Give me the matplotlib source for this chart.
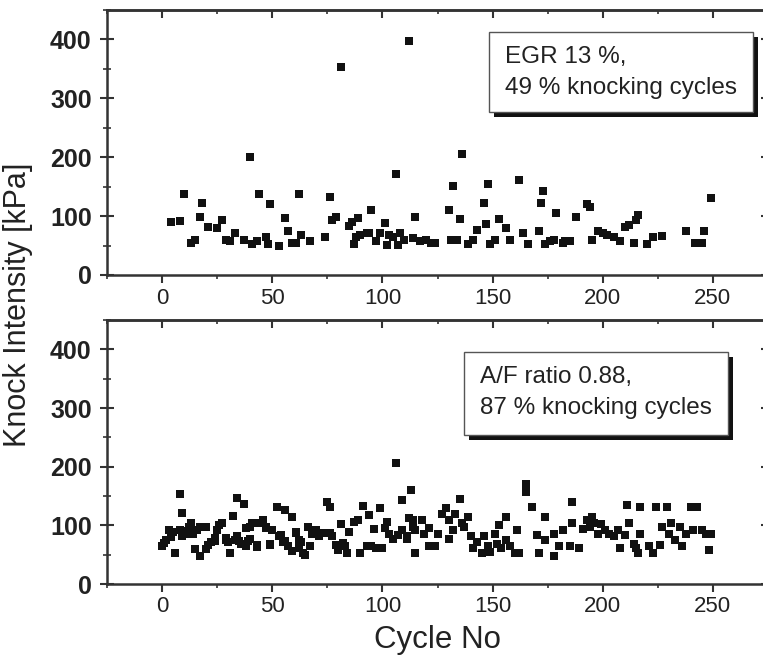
import matplotlib
matplotlib.use("Agg")
import matplotlib.pyplot as plt
from matplotlib.patches import Rectangle
from matplotlib.ticker import MultipleLocator

plt.rcParams["font.family"] = ["Liberation Sans", "DejaVu Sans"]

# EGR 13 % case (knocking cycles only)
egr_cycle = [4, 8, 10, 13, 15, 17, 18, 21, 25, 27, 29, 31, 33, 37, 40, 41, 44, 43,
             47, 48, 49, 53, 56, 57, 59, 61, 62, 63, 67, 74, 76, 77, 79, 81, 85, 87,
             86, 89, 88, 90, 93, 95, 94, 97, 99, 101, 102, 103, 106, 105, 107, 108,
             110, 112, 115, 114, 117, 120, 122, 124, 131, 132, 130, 135, 134, 136,
             139, 141, 143, 146, 147, 148, 149, 151, 153, 156, 158, 162, 164, 166,
             171, 172, 173, 174, 176, 178, 179, 182, 183, 185, 188, 193, 194, 195,
             198, 200, 202, 205, 208, 210, 212, 215, 216, 214, 220, 223, 227, 238,
             242, 246, 245, 249]
egr_ki = [90, 92, 137, 55, 59, 99, 123, 82, 80, 93, 59, 58, 72, 59, 200, 52, 137, 58,
          64, 52, 120, 50, 96, 75, 55, 55, 137, 68, 58, 64, 133, 93, 99, 353, 83, 53,
          90, 96, 65, 68, 71, 110, 72, 58, 72, 88, 51, 68, 171, 65, 51, 71,
          59, 398, 99, 62, 58, 60, 55, 55, 59, 151, 110, 95, 59, 205,
          52, 60, 76, 123, 87, 154, 52, 59, 95, 79, 60, 162, 71, 52,
          75, 122, 143, 52, 57, 59, 106, 54, 58, 58, 99, 120, 116, 59,
          74, 71, 68, 65, 57, 82, 85, 93, 102, 54, 53, 65, 66, 75,
          54, 75, 55, 130]

# A/F ratio 0.88 case
af_cycle = [0, 1, 2, 4, 3, 5, 6, 8, 9, 8, 9, 11, 13, 12, 14, 15, 16, 17, 17, 20,
            20, 21, 24, 25, 26, 27, 29, 31, 32, 33, 34, 35, 37, 38, 38, 40, 41, 43,
            44, 46, 47, 49, 50, 52, 53, 55, 56, 57, 59, 59, 61, 62, 62, 64, 65, 66,
            67, 68, 70, 71, 73, 75, 76, 76, 77, 79, 80, 81, 82, 83, 84, 85, 87, 89,
            90, 91, 93, 94, 95, 96, 97, 99, 100, 101, 102, 103, 105, 106, 107, 109,
            111, 113, 112, 114, 115, 118, 119, 121, 109, 111, 115, 114, 121, 124,
            125, 127, 129, 130, 130, 132, 133, 135, 136, 137, 139, 140, 141, 143,
            145, 146, 148, 149, 151, 152, 153, 154, 156, 156, 158, 160, 161, 162,
            165, 165, 168, 170, 171, 174, 174, 178, 178, 180, 182, 185, 186, 186,
            189, 191, 193, 194, 195, 196, 198, 199, 201, 203, 205, 207, 208, 210,
            211, 212, 214, 215, 216, 217, 217, 221, 223, 224, 226, 227, 229, 230,
            231, 233, 235, 236, 238, 240, 241, 243, 245, 247, 248, 249,
            11, 14, 18, 22, 24, 29, 30, 34, 36, 39, 40, 43, 47, 49, 54, 56, 61, 63]
af_ki = [65, 70, 75, 80, 92, 89, 53, 153, 121, 92, 82, 85, 104, 97, 85, 59, 92, 48, 97, 98,
         60, 66, 73, 92, 100, 104, 75, 53, 116, 75, 146, 74, 137, 95, 64, 77, 104, 63,
         104, 109, 98, 66, 92, 132, 81, 72, 126, 64, 114, 57, 87, 75, 61, 53, 49, 98,
         64, 86, 92, 81, 87, 139, 132, 87, 81, 66, 58, 103, 70, 64, 52, 89, 106, 109,
         52, 133, 64, 117, 64, 93, 61, 129, 61, 95, 106, 85, 77, 206, 83, 144,
         77, 161, 112, 98, 53, 109, 85, 64, 92, 81, 92, 109, 95, 64,
         86, 120, 129, 109, 76, 92, 120, 145, 104, 98, 115, 81, 61, 72,
         52, 81, 64, 55, 86, 69, 100, 61, 115, 75, 64, 52, 92, 52,
         171, 157, 132, 83, 52, 115, 75, 48, 86, 65, 92, 64, 140, 104,
         61, 93, 109, 98, 115, 104, 86, 102, 92, 86, 81, 92, 61, 83,
         135, 104, 69, 61, 52, 132, 86, 64, 52, 132, 66, 98, 132, 86,
         104, 75, 98, 64, 86, 132, 92, 132, 92, 86, 58, 86,
         90, 92, 98, 72, 78, 78, 72, 81, 69, 74, 98, 66, 95, 69, 83, 74, 89, 72]

panels = [
    (egr_cycle, egr_ki, ["EGR 13 %,", "49 % knocking cycles"], 30),
    (af_cycle, af_ki, ["A/F ratio 0.88,", "87 % knocking cycles"], 26),
]

W, H = 763, 659
fig = plt.figure(figsize=(W / 100, H / 100), dpi=100)

# axes rectangles in pixels: left, top, right, bottom
ax_px = [(107, 10, 768, 275), (107, 320, 768, 584)]
box_px = [(489, 32, 753, 112), (464, 352, 728, 435)]
text_px = [(505, 57, 88), (480, 377, 408)]

spine_col = "#333333"
txt_col = "#222222"

for i, (cyc, ki, lines, msize) in enumerate(panels):
    l, t, r, b = ax_px[i]
    ax = fig.add_axes([l / W, 1 - b / H, (r - l) / W, (b - t) / H])
    ax.scatter(cyc, ki, marker="s", s=msize, color="#111111", linewidths=0)
    ax.set_xlim(-25, 275)
    ax.set_ylim(0, 450)
    ax.xaxis.set_major_locator(MultipleLocator(50))
    ax.xaxis.set_minor_locator(MultipleLocator(25))
    ax.yaxis.set_major_locator(MultipleLocator(100))
    ax.yaxis.set_minor_locator(MultipleLocator(50))
    for s in ax.spines.values():
        s.set_color(spine_col)
        s.set_linewidth(1.8)

    ax.tick_params(axis="x", which="major", direction="out", length=6, width=1.5,
                   color=spine_col, labelsize=16, labelcolor=txt_col, pad=3)
    ax.tick_params(axis="x", which="minor", direction="out", length=3, width=1.2,
                   color=spine_col)
    ax.tick_params(axis="y", which="major", direction="inout", length=10, width=1.5,
                   color=spine_col, labelsize=18, labelcolor=txt_col, pad=6,
                   right=True)
    ax.tick_params(axis="y", which="minor", direction="inout", length=6, width=1.2,
                   color=spine_col, right=True)
    for lab in ax.get_yticklabels():
        lab.set_fontweight("bold")

    top = ax.secondary_xaxis("top")
    top.xaxis.set_major_locator(MultipleLocator(50))
    top.xaxis.set_minor_locator(MultipleLocator(25))
    top.tick_params(which="major", direction="in", length=6, width=1.5,
                    color=spine_col, labeltop=False)
    top.tick_params(which="minor", direction="in", length=3, width=1.2,
                    color=spine_col)
    top.spines["top"].set_color(spine_col)
    top.spines["top"].set_linewidth(1.8)

    # legend-like box with drop shadow
    bl, bt, br, bb = box_px[i]
    ah = b - t
    aw = r - l
    x0 = (bl - l) / aw
    y0 = (b - bb) / ah
    w = (br - bl) / aw
    h = (bb - bt) / ah
    ax.add_patch(Rectangle((x0 + 5 / aw, y0 - 5 / ah), w, h, transform=ax.transAxes,
                           facecolor="#111111", edgecolor="none", zorder=4))
    ax.add_patch(Rectangle((x0, y0), w, h, transform=ax.transAxes,
                           facecolor="white", edgecolor="#555555", linewidth=1.0,
                           zorder=5))
    tx, ty1, ty2 = text_px[i]
    for line, ty in zip(lines, (ty1, ty2)):
        ax.text((tx - l) / aw, (b - ty) / ah, line, transform=ax.transAxes,
                ha="left", va="center", fontsize=17.5, color=txt_col, zorder=6)

fig.text(18 / W, 1 - 305 / H, "Knock Intensity [kPa]", rotation=90, ha="center",
         va="center", fontsize=22, color=txt_col)
fig.text(437 / W, 1 - 640 / H, "Cycle No", ha="center", va="center", fontsize=22.5,
         color=txt_col)

fig.savefig("out.png", dpi=100, facecolor="white")
